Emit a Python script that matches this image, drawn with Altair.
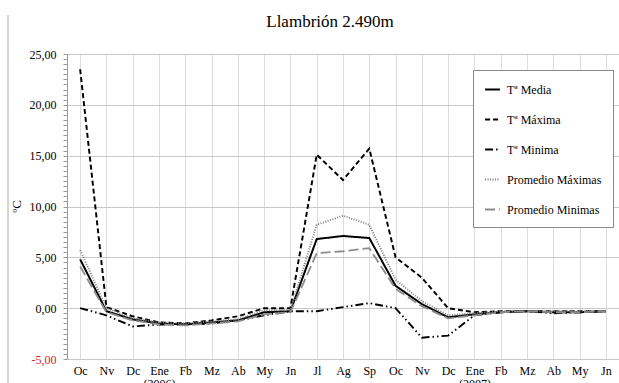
import altair as alt
import pandas as pd

months = ["Oc", "Nv", "Dc", "Ene", "Fb", "Mz", "Ab", "My", "Jn", "Jl", "Ag", "Sp",
          "Oc", "Nv", "Dc", "Ene", "Fb", "Mz", "Ab", "My", "Jn"]
years = ["", "", "", "(2006)", "", "", "", "", "", "", "", "",
         "", "", "", "(2007)", "", "", "", "", ""]

series = ["Tª Media", "Tª Máxima", "Tª Minima", "Promedio Máximas", "Promedio Minimas"]

media = [4.8, -0.3, -1.1, -1.5, -1.6, -1.4, -1.2, -0.4, -0.3, 6.8, 7.1, 6.9,
         2.2, 0.4, -0.9, -0.6, -0.4, -0.3, -0.4, -0.4, -0.3]
maxima = [23.5, 0.1, -0.8, -1.4, -1.5, -1.2, -0.8, 0.0, 0.0, 15.1, 12.6, 15.7,
          5.0, 3.0, 0.0, -0.4, -0.3, -0.3, -0.3, -0.3, -0.3]
minima = [0.0, -0.7, -1.8, -1.6, -1.6, -1.5, -1.2, -0.7, -0.3, -0.3, 0.1, 0.5,
          0.0, -2.9, -2.7, -0.7, -0.4, -0.3, -0.5, -0.4, -0.3]
prom_max = [5.7, 0.0, -1.0, -1.4, -1.5, -1.3, -1.1, -0.2, -0.2, 8.2, 9.1, 8.2,
            2.8, 0.7, -0.7, -0.5, -0.3, -0.3, -0.3, -0.3, -0.3]
prom_min = [4.1, -0.4, -1.2, -1.6, -1.7, -1.5, -1.3, -0.6, -0.4, 5.4, 5.6, 5.9,
            1.9, 0.2, -1.0, -0.7, -0.4, -0.3, -0.4, -0.4, -0.3]

values = [media, maxima, minima, prom_max, prom_min]
rows = []
for s, vals in zip(series, values):
    for i, v in enumerate(vals):
        rows.append({"idx": i, "serie": s, "temp": v})
df = pd.DataFrame(rows)

label_items = []
for m, y in zip(months, years):
    if y:
        label_items.append("['%s','%s']" % (m, y))
    else:
        label_items.append("'%s'" % m)
x_label_expr = "[" + ",".join(label_items) + "][datum.value]"

y_ticks = [-5 + 0.5 * i for i in range(61)]
y_label_expr = ("datum.value % 5 == 0 ? (datum.value < 0 ? '-' : '') + "
                "replace(format(abs(datum.value), '.2f'), '.', ',') : ''")

serif = "Times New Roman, Liberation Serif, serif"

legend_common = dict(orient="none", legendX=406, legendY=16)

lines = alt.Chart(df).mark_line(clip=False).encode(
    x=alt.X("idx:O", title=None, scale=alt.Scale(paddingInner=0, paddingOuter=0.5),
            axis=alt.Axis(labelExpr=x_label_expr, labelAngle=0, labelFont=serif,
                          labelFontSize=12, labelColor="#000", domain=False,
                          ticks=False, labelPadding=6, labelLineHeight=13)),
    y=alt.Y("temp:Q", title="ºC",
            scale=alt.Scale(domain=[-5, 25], nice=False, zero=False),
            axis=alt.Axis(values=y_ticks, labelExpr=y_label_expr, labelFont=serif,
                          labelFontSize=12,
                          labelColor=alt.condition("datum.value < 0", alt.value("#e0202a"), alt.value("#000")),
                          tickSize=4, tickColor="#999", domainColor="#999",
                          gridColor="#c8c8c8",
                          gridOpacity=alt.condition("datum.value % 5 == 0", alt.value(1), alt.value(0)),
                          labelPadding=7, labelOverlap=False,
                          titleFont=serif, titleFontSize=13, titleFontWeight="normal",
                          titleColor="#000", titleX=-44, titleY=152, titleAngle=-90)),
    color=alt.Color("serie:N", title=None,
                    scale=alt.Scale(domain=series,
                                    range=["#000000", "#000000", "#000000", "#7a7a7a", "#8c8c8c"]),
                    legend=alt.Legend(fillColor="#ffffff", strokeColor="#8a8a8a",
                                      padding=11, rowPadding=15,
                                      labelFont=serif, labelFontSize=12, labelColor="#000",
                                      symbolType="stroke", symbolSize=220,
                                      symbolStrokeWidth=1.8, labelOffset=6,
                                      labelLimit=200, **legend_common)),
    strokeDash=alt.StrokeDash("serie:N", title=None,
                              scale=alt.Scale(domain=series,
                                              range=[[1, 0], [5, 3], [8, 3, 1.5, 3, 1.5, 3], [1, 1.5], [10, 4]]),
                              legend=alt.Legend(**legend_common)),
    strokeWidth=alt.StrokeWidth("serie:N", title=None,
                                scale=alt.Scale(domain=series, range=[2, 1.8, 1.8, 1, 2]),
                                legend=alt.Legend(**legend_common)),
)

frame = alt.Chart(pd.DataFrame({"a": [0]})).mark_rule(color="#aaaaaa", strokeWidth=1, clip=False).encode(
    x=alt.value(-59), y=alt.value(-39), y2=alt.value(330)
)

chart = alt.layer(frame, lines).properties(
    width=552, height=305,
    title=alt.TitleParams("Llambrión 2.490m", font=serif, fontSize=17, fontWeight="normal",
                          color="#000", anchor="middle", dx=-13, offset=-16, frame="group"),
    padding={"left": 67, "top": 54, "right": 0, "bottom": 24},
    autosize=alt.AutoSizeParams(type="none"),
).configure_view(stroke=None).configure_axis(grid=True)

chart.save("out.html", embed_options={"renderer": "svg", "actions": False})
